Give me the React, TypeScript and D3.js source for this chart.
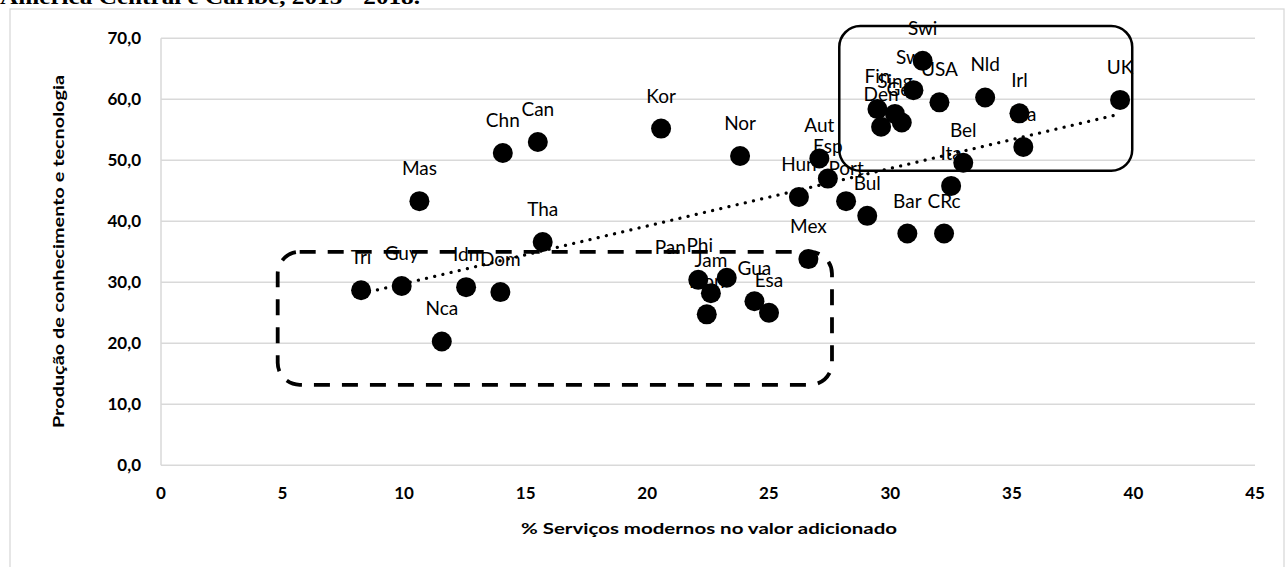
import React from "react";
import * as d3 from "d3";

const countries = ["Tri","Guy","Idn","Dom","Nca","Tha","Mas","Chn","Can","Kor","Nor","Aut","Esp","Hun","Port","Bul","Mex","Bar","CRc","Ita","Bel","Swi","Swe","USA","Nld","Irl","Fra","UK","Fin","Sing","Den","Ger","Pan","Phi","Jam","Hon","Gua","Esa"];
const servicos = [8.23,9.90,12.55,13.96,11.55,15.70,10.63,14.06,15.50,20.57,23.82,27.08,27.43,26.24,28.18,29.05,26.63,30.70,32.21,32.50,33.00,31.33,30.95,32.02,33.90,35.31,35.47,39.45,29.47,30.19,29.62,30.47,22.10,23.27,22.62,22.45,24.41,25.01];
const producao = [28.7,29.4,29.2,28.4,20.3,36.6,43.3,51.2,53.0,55.2,50.7,50.3,47.0,44.0,43.3,40.9,33.8,38.0,38.0,45.8,49.6,66.3,61.5,59.5,60.3,57.7,52.2,59.9,58.4,57.6,55.5,56.2,30.4,30.75,28.2,24.75,26.9,25.0];

const xTicks = [0,5,10,15,20,25,30,35,40,45];
const yTicks = [0,10,20,30,40,50,60,70];

// annotation boxes in data units: [x0, x1, yTop, yBottom]
const solidBox = [27.9, 39.95, 72.0, 48.3];
const dashedBox = [4.8, 27.6, 35.0, 13.2];

// manual label nudges (px)
const labelNudge: Record<string, number> = { Pan: -28, Phi: -27 };

const title = "América Central e Caribe, 2015 - 2018.";
const xTitle = "% Serviços modernos no valor adicionado";
const yTitle = "Produção de conhecimento e tecnologia";

export default function App() {
  const W = 1286, H = 567;
  const x = d3.scaleLinear().domain([0, 45]).range([161, 1255]);
  const y = d3.scaleLinear().domain([0, 70]).range([465.3, 38.3]);
  const fmtY = (v: number) => v.toFixed(1).replace(".", ",");

  const pts = countries.map((c, i) => ({ c, x: servicos[i], y: producao[i] }));
  const mx = d3.mean(servicos)!, my = d3.mean(producao)!;
  let sxy = 0, sxx = 0;
  pts.forEach(p => { sxy += (p.x - mx) * (p.y - my); sxx += (p.x - mx) ** 2; });
  const slope = sxy / sxx, icpt = my - slope * mx;
  const xMin = d3.min(servicos)!, xMax = d3.max(servicos)!;
  const trend = d3.line<number>().x(v => x(v)).y(v => y(icpt + slope * v))([xMin, xMax]);

  const boxPath = (b: number[], r: number) => {
    const p = d3.path();
    const x0 = x(b[0]), x1 = x(b[1]), y0 = y(b[2]), y1 = y(b[3]);
    p.moveTo(x0 + r, y0);
    p.lineTo(x1 - r, y0);
    p.arcTo(x1, y0, x1, y0 + r, r);
    p.lineTo(x1, y1 - r);
    p.arcTo(x1, y1, x1 - r, y1, r);
    p.lineTo(x0 + r, y1);
    p.arcTo(x0, y1, x0, y1 - r, r);
    p.lineTo(x0, y0 + r);
    p.arcTo(x0, y0, x0 + r, y0, r);
    p.closePath();
    return p.toString();
  };

  return (
    <svg width={W} height={H} style={{ position: "absolute", left: 0, top: 0, background: "#fff" }}>
      <rect x={0} y={0} width={W} height={H} fill="#fff" />
      <text x={0} y={4} fontFamily="'Liberation Serif', serif" fontWeight="bold" fontSize={21} textLength={420} lengthAdjust="spacingAndGlyphs">{title}</text>
      <rect x={10} y={9} width={1274} height={620} fill="none" stroke="#d9d9d9" strokeWidth={1.3} />
      {yTicks.map(t => (
        <line key={"g" + t} x1={x(0)} x2={x(45)} y1={y(t)} y2={y(t)} stroke="#d9d9d9" strokeWidth={1.5} />
      ))}
      <line x1={x(0)} x2={x(0)} y1={y(70)} y2={y(0)} stroke="#d9d9d9" strokeWidth={1.5} />
      {yTicks.map(t => (
        <text key={"yl" + t} x={141} y={y(t)} dy="0.35em" textAnchor="end" fontFamily="Lato" fontWeight="bold" fontSize={17} fill="#000">{fmtY(t)}</text>
      ))}
      {xTicks.map(t => (
        <text key={"xl" + t} x={x(t)} y={493} dy="0.35em" textAnchor="middle" fontFamily="Lato" fontWeight="bold" fontSize={17} fill="#000">{t}</text>
      ))}
      <text x={709} y={528} dy="0.35em" textAnchor="middle" fontFamily="Lato" fontWeight="bold" fontSize={16} textLength={376} lengthAdjust="spacingAndGlyphs">{xTitle}</text>
      <text transform="translate(58,251.5) rotate(-90)" dy="0.35em" textAnchor="middle" fontFamily="Lato" fontWeight="bold" fontSize={16} textLength={353} lengthAdjust="spacingAndGlyphs">{yTitle}</text>
      {pts.map(p => (
        <text key={"l" + p.c} x={x(p.x) + (labelNudge[p.c] || 0)} y={y(p.y) - 26} textAnchor="middle" fontFamily="Lato" fontSize={19} fill="#000">{p.c}</text>
      ))}
      <path d={trend || ""} fill="none" stroke="#000" strokeWidth={3.2} strokeDasharray="0.1 8.3" strokeLinecap="round" />
      {pts.map(p => (
        <circle key={"c" + p.c} cx={x(p.x)} cy={y(p.y)} r={10} fill="#000" />
      ))}
      <path d={boxPath(solidBox, 21)} fill="none" stroke="#000" strokeWidth={2.5} />
      <path d={boxPath(dashedBox, 22)} fill="none" stroke="#000" strokeWidth={3.8} strokeDasharray="16 12" />
    </svg>
  );
}
